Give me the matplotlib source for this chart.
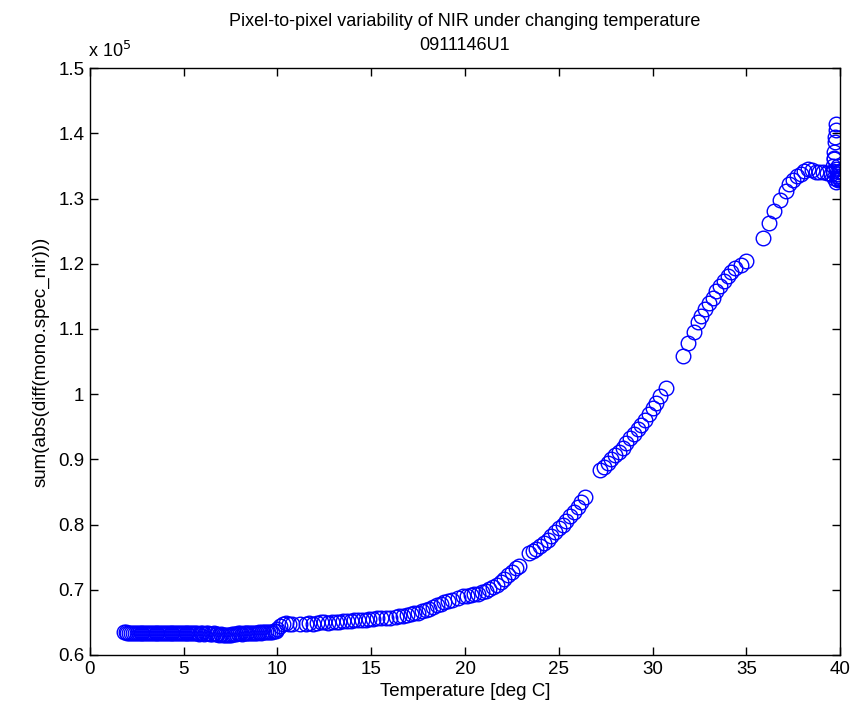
import numpy as np
import matplotlib.pyplot as plt
from matplotlib.ticker import FuncFormatter

plt.rcParams['font.family'] = ['Liberation Sans', 'DejaVu Sans']

# temperature [deg C] and sum(abs(diff(...))) in units of 1e5, grouped by run
t_flat = [1.8, 1.9, 2.0, 2.1, 2.2, 2.3, 2.4, 2.5, 2.6, 2.7, 2.8, 2.9, 3.0, 3.1,
          3.2, 3.3, 3.4, 3.5, 3.6, 3.7, 3.8, 3.9, 4.0, 4.1, 4.2, 4.3, 4.4, 4.5,
          4.6, 4.7, 4.8, 4.9, 5.0, 5.1, 5.2, 5.3, 5.4, 5.5, 5.6, 5.7, 5.8, 5.9,
          6.0, 6.1, 6.2, 6.3, 6.4, 6.5, 6.6, 6.7, 6.8, 6.9, 7.0, 7.1, 7.2, 7.3,
          7.4, 7.5, 7.6, 7.7, 7.8, 7.9, 8.0, 8.1, 8.2, 8.3, 8.4, 8.5, 8.6, 8.7,
          8.8, 8.9, 9.0, 9.1, 9.2, 9.3, 9.4, 9.5, 9.6, 9.7, 9.8, 9.9]
v_flat = [0.636, 0.635, 0.634, 0.634, 0.633, 0.633, 0.633, 0.634, 0.633, 0.633,
          0.633, 0.634, 0.633, 0.633, 0.633, 0.634, 0.633, 0.633, 0.633, 0.634,
          0.633, 0.633, 0.633, 0.634, 0.633, 0.633, 0.633, 0.634, 0.633, 0.633,
          0.634, 0.633, 0.633, 0.633, 0.634, 0.633, 0.633, 0.633, 0.634, 0.633,
          0.632, 0.633, 0.633, 0.632, 0.633, 0.633, 0.632, 0.632, 0.633, 0.632,
          0.632, 0.631, 0.632, 0.631, 0.630, 0.631, 0.630, 0.631, 0.632, 0.632,
          0.632, 0.633, 0.633, 0.632, 0.633, 0.633, 0.633, 0.634, 0.633, 0.634,
          0.634, 0.634, 0.635, 0.634, 0.635, 0.635, 0.635, 0.636, 0.636, 0.636,
          0.637, 0.637]

t_step = [10.0, 10.15, 10.3, 10.45, 10.6, 10.75, 11.2, 11.5, 11.7, 11.9, 12.1,
          12.3, 12.5, 12.7, 12.9, 13.1, 13.3, 13.5, 13.7, 13.9, 14.1, 14.3,
          14.5, 14.7, 14.9, 15.1, 15.3, 15.5]
v_step = [0.640, 0.645, 0.648, 0.649, 0.648, 0.648, 0.648, 0.648, 0.649, 0.648,
          0.649, 0.650, 0.650, 0.649, 0.650, 0.651, 0.651, 0.652, 0.652, 0.652,
          0.653, 0.653, 0.654, 0.654, 0.655, 0.655, 0.656, 0.656]

t_rise = [15.8, 16.0, 16.3, 16.5, 16.7, 16.9, 17.1, 17.3, 17.5, 17.7, 17.9,
          18.1, 18.3, 18.5, 18.7, 18.9, 19.1, 19.3, 19.6, 19.9, 20.1, 20.3,
          20.5, 20.7, 20.9, 21.1, 21.3, 21.5, 21.7, 21.9, 22.1, 22.3, 22.5,
          22.7, 22.9]
v_rise = [0.657, 0.657, 0.659, 0.660, 0.660, 0.662, 0.663, 0.664, 0.665, 0.667,
          0.669, 0.671, 0.673, 0.676, 0.678, 0.681, 0.683, 0.685, 0.688, 0.690,
          0.691, 0.692, 0.693, 0.694, 0.696, 0.698, 0.701, 0.704, 0.708, 0.712,
          0.717, 0.722, 0.728, 0.733, 0.736]

t_mid = [23.4, 23.6, 23.8, 24.0, 24.2, 24.4, 24.6, 24.8, 25.0, 25.2, 25.4,
         25.6, 25.8, 26.0, 26.2, 26.4]
v_mid = [0.756, 0.759, 0.763, 0.767, 0.772, 0.777, 0.782, 0.788, 0.794, 0.800,
         0.806, 0.813, 0.820, 0.827, 0.835, 0.843]

t_steep = [27.2, 27.4, 27.6, 27.8, 28.0, 28.2, 28.4, 28.6, 28.8, 29.0, 29.2,
           29.4, 29.6, 29.8, 30.0, 30.2, 30.4, 30.7]
v_steep = [0.883, 0.888, 0.894, 0.900, 0.906, 0.912, 0.918, 0.925, 0.932, 0.939,
           0.946, 0.953, 0.961, 0.969, 0.978, 0.987, 0.997, 1.010]

t_upper = [31.6, 31.9, 32.2, 32.4, 32.6, 32.8, 33.0, 33.2, 33.4, 33.6, 33.8,
           34.0, 34.2, 34.4, 34.7, 35.0]
v_upper = [1.058, 1.078, 1.095, 1.110, 1.120, 1.131, 1.140, 1.148, 1.158, 1.166,
           1.173, 1.181, 1.188, 1.193, 1.198, 1.204]

t_top = [35.9, 36.2, 36.5, 36.8, 37.1, 37.3, 37.5, 37.7, 37.9, 38.1, 38.3,
         38.5, 38.7, 38.9, 39.1, 39.3]
v_top = [1.240, 1.262, 1.281, 1.298, 1.312, 1.322, 1.328, 1.334, 1.338, 1.342,
         1.346, 1.344, 1.341, 1.340, 1.340, 1.339]

t_end = [39.5, 39.6, 39.6, 39.7, 39.7, 39.75, 39.75, 39.8, 39.8, 39.8, 39.85,
         39.85, 39.9, 39.9, 39.95, 39.95, 40.0, 40.0, 40.0, 39.7, 39.8, 39.9,
         39.65]
v_end = [1.338, 1.342, 1.350, 1.360, 1.372, 1.387, 1.394, 1.405, 1.415, 1.345,
         1.335, 1.330, 1.328, 1.338, 1.332, 1.340, 1.335, 1.330, 1.342, 1.332,
         1.325, 1.350, 1.362]

temps = np.concatenate([t_flat, t_step, t_rise, t_mid, t_steep, t_upper, t_top, t_end])
vals = np.concatenate([v_flat, v_step, v_rise, v_mid, v_steep, v_upper, v_top, v_end])

fig = plt.figure(figsize=(8.52, 7.17), dpi=100)
ax = fig.add_axes([0.1056, 0.0865, 0.8804, 0.8185])

ax.plot(temps, vals, 'o', mfc='none', mec='#0000ff', ms=10.5, mew=1.0)

ax.set_xlim(0, 40)
ax.set_ylim(0.6, 1.5)
ax.set_xticks(np.arange(0, 41, 5))
ax.set_yticks(np.arange(0.6, 1.51, 0.1))
ax.yaxis.set_major_formatter(FuncFormatter(lambda v, p: '%g' % round(v, 1)))
ax.tick_params(direction='in', top=True, right=True, length=6, width=1,
               labelsize=13.5, pad=4)
for s in ax.spines.values():
    s.set_linewidth(1)

ax.text(-0.002, 1.012, r'x 10$^5$', transform=ax.transAxes, fontsize=13,
        ha='left', va='bottom')
ax.set_title('Pixel-to-pixel variability of NIR under changing temperature\n0911146U1',
             fontsize=13, pad=13, linespacing=1.55)
ax.set_xlabel('Temperature [deg C]', fontsize=13.5, labelpad=4)
ax.set_ylabel('sum(abs(diff(mono.spec_nir)))', fontsize=13.5, labelpad=6)

fig.savefig('out.png', dpi=100, facecolor='white')
